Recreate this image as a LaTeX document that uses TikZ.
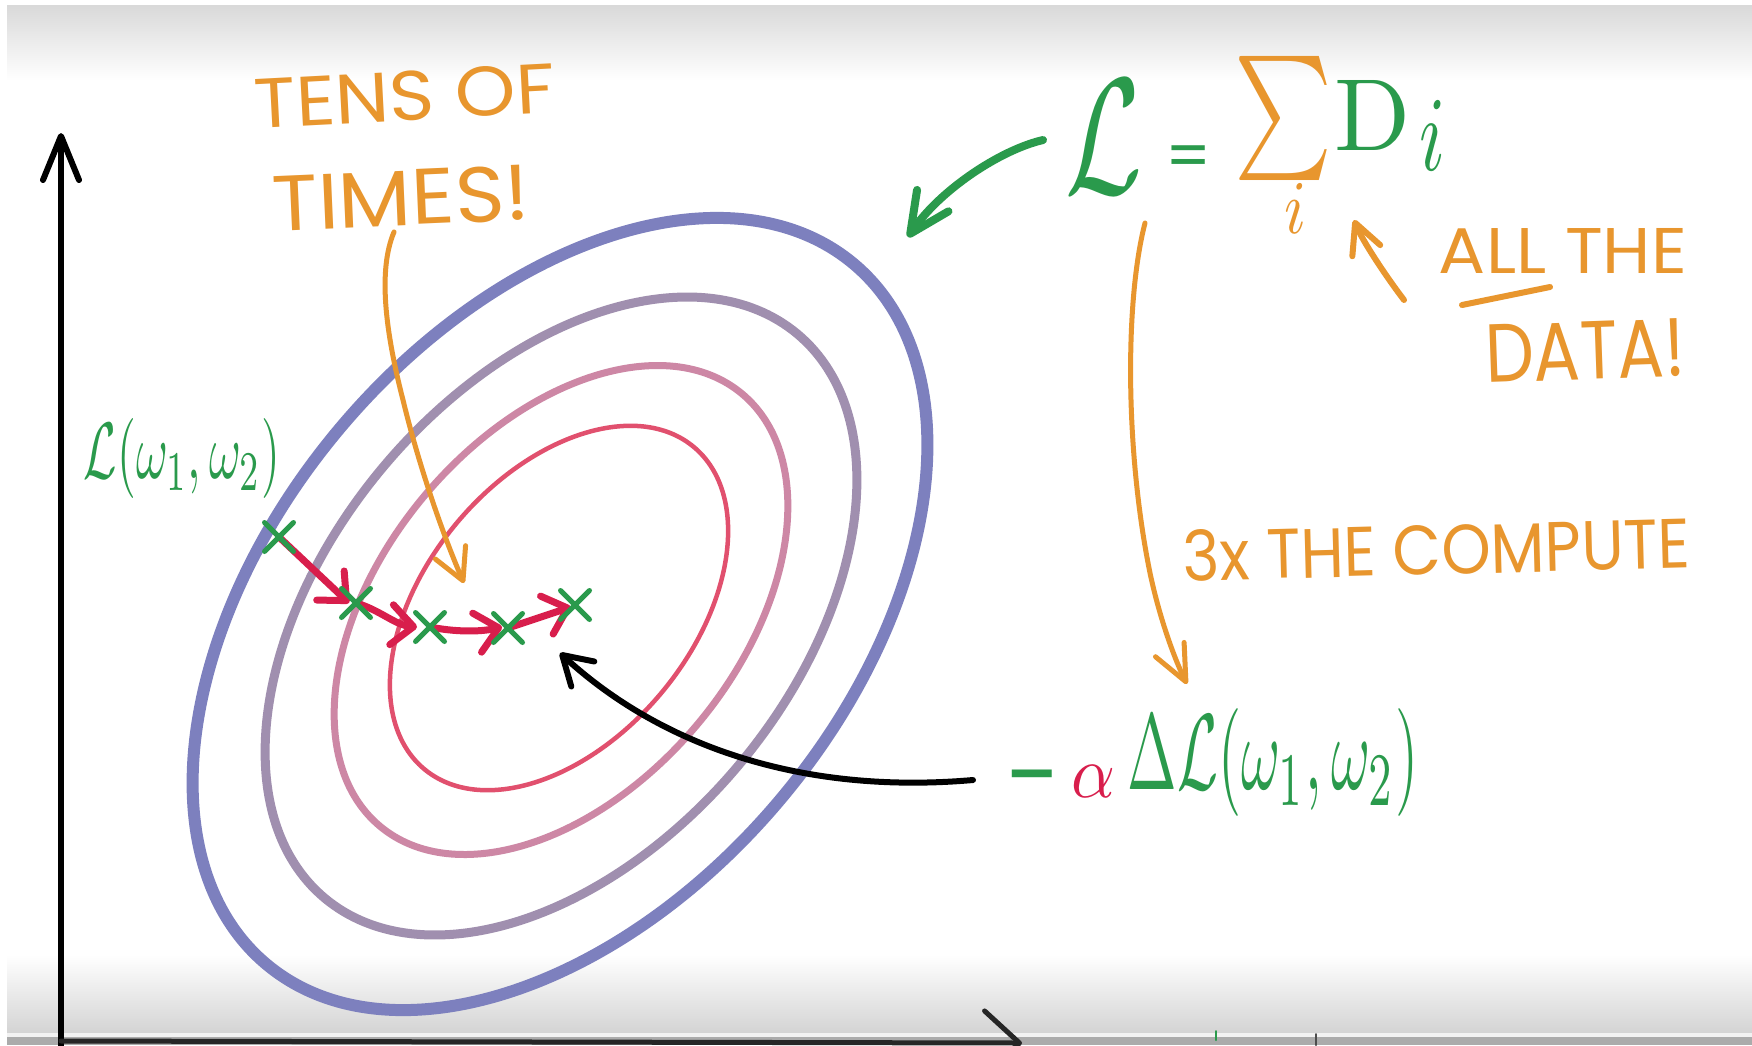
\documentclass[tikz,border=0pt]{standalone}
\usepackage{fontspec}
\usepackage{graphicx}
\usetikzlibrary{arrows.meta,shapes.misc}
\newfontfamily\hand{Poppins}
\newfontfamily\lmmath{latinmodern-math.otf}
\definecolor{cgreen}{HTML}{2A9A4C}
\definecolor{corange}{HTML}{E8962E}
\definecolor{cred}{HTML}{D81E4C}
\definecolor{cellA}{HTML}{7D80BE}
\definecolor{cellB}{HTML}{A08FAF}
\definecolor{cellC}{HTML}{CD87A5}
\definecolor{cellD}{HTML}{E1506E}
% [rotation]{name}{colour}{x1}{y1}{x2}{y2}{content}
\newcommand{\fitnode}[8][0]{%
  \node[inner sep=0pt,outer sep=0pt,rotate=#1,text=#3] (#2) at ({(#4+#6)/2},{(#5+#7)/2})
    {\resizebox*{\dimexpr #6pt-#4pt\relax}{\dimexpr #7pt-#5pt\relax}{#8}};}
\tikzset{
  xmark/.style={cross out, draw=cgreen, line width=5pt, minimum size=24pt, inner sep=0pt},
  redarrow/.style={cred, line width=7pt, -{Straight Barb[round,length=22pt,width=40pt]}},
  handtext/.style={inner sep=0pt, outer sep=0pt, text=cgreen}
}
\begin{document}
\begin{tikzpicture}[x=1pt,y=-1pt,line cap=round,line join=round]
\useasboundingbox (0,0) rectangle (1752,1045);
\clip (0,0) rectangle (1752,1045);
% background
\fill[white] (0,0) rectangle (1752,1045);
\shade[top color=black!15, bottom color=white] (7,5) rectangle (1752,80);
\shade[top color=white, bottom color=black!17] (7,955) rectangle (1752,1033);
\fill[black!5] (7,1033) rectangle (1752,1037);
\fill[black!33] (7,1037) rectangle (1752,1045);
% axes
\coordinate (origin) at (61,1041);
\coordinate (ytip) at (61,133);
\coordinate (xtip) at (1022,1043);
\draw[line width=6pt, -{Straight Barb[round,length=44pt,width=36pt]}] (61,1060) -- (ytip);
\draw[line width=5pt, black!85, -{Straight Barb[round,length=35pt,width=64pt]}] (origin) -- (xtip);
\draw[cgreen, line width=2pt] (1216,1031) -- (1216,1040);
\draw[black!70, line width=2pt] (1316,1034) -- (1316,1045);
% contour ellipses
\draw[cellA, line width=12pt, rotate around={50:(560,614)}] (560,614) ellipse [x radius=457pt, y radius=288pt];
\draw[cellB, line width=9pt, rotate around={50:(561,616)}] (561,616) ellipse [x radius=368pt, y radius=232pt];
\draw[cellC, line width=7pt, rotate around={50:(561,610)}] (561,610) ellipse [x radius=282pt, y radius=178pt];
\draw[cellD, line width=4.5pt, rotate around={50:(559,608)}] (559,608) ellipse [x radius=210pt, y radius=133pt];
% texts
\fitnode[3]{tens}{corange}{254}{71}{555}{121}{\hand TENS OF}
\fitnode[2.5]{times}{corange}{272}{170}{530}{226}{\hand TIMES!}
\fitnode{allthe}{corange}{1439}{228}{1687}{273}{\hand ALL THE}
\fitnode[2]{data}{corange}{1485}{322}{1685}{380}{\hand DATA!}
\fitnode[1.5]{compute}{corange}{1183}{523}{1690}{575}{\hand 3x THE COMPUTE}
\draw[corange, line width=6pt] (1462,305) -- (1550,287);
\fitnode{Lw}{cgreen}{84}{418}{280}{498}{$\mathcal{L}(\omega_1,\omega_2)$}
\fitnode{Ltop}{cgreen}{1066}{80}{1143}{193}{$\mathcal{L}$}
\node[handtext, font={\hand\fontsize{64pt}{64pt}\selectfont}, anchor=base] (eq) at (1189,178) {=};
\fitnode{sum}{corange}{1235}{56}{1333}{180}{\lmmath ∑}
\fitnode{sumi}{corange}{1284}{183}{1306}{233}{$i$}
\fitnode{D}{cgreen}{1335}{80}{1411}{150}{$\mathrm{D}$}
\fitnode{Di}{cgreen}{1419}{100}{1445}{170}{$i$}
\node[handtext, font={\hand\fontsize{100pt}{100pt}\selectfont}, anchor=base] (minus) at (1034,810) {-};
\fitnode{alpha}{cred}{1071}{765}{1115}{797}{$\alpha$}
\fitnode{grad}{cgreen}{1128}{708}{1418}{816}{$\Delta\mathcal{L}(\omega_1,\omega_2)$}
% arrow end points
\coordinate (gstart) at (1043,140);
\coordinate (gtip) at (908,237);
\coordinate (tstart) at (394,232);
\coordinate (ttip) at (464,583);
\coordinate (astart) at (1404,300);
\coordinate (atip) at (1354,220);
\coordinate (lstart) at (1145,223);
\coordinate (ltip) at (1187,684);
\coordinate (bstart) at (973,780);
\coordinate (btip) at (560,653);
% descent points
\coordinate (p1) at (279,537);
\coordinate (p2) at (356,603);
\coordinate (p3) at (430,627);
\coordinate (p4) at (508,628);
\coordinate (p5) at (575,605);
% arrows
\draw[cgreen, line width=8pt, -{Straight Barb[round,length=40pt,width=38pt]}] (gstart) .. controls (1000,150) and (940,190) .. (gtip);
\draw[corange, line width=5pt, -{Straight Barb[round,length=31pt,width=33pt]}] (tstart) .. controls (378,270) and (385,330) .. (403,400) .. controls (420,470) and (445,540) .. (ttip);
\draw[corange, line width=6pt, -{Straight Barb[round,length=30pt,width=30pt]}] (astart) .. controls (1385,275) and (1362,240) .. (atip);
\draw[corange, line width=5pt, -{Straight Barb[round,length=36pt,width=32pt]}] (lstart) .. controls (1125,300) and (1125,450) .. (1150,573) .. controls (1160,620) and (1175,660) .. (ltip);
\draw[redarrow] (p1) -- ([shift={(-7,0)}]p2);
\draw[redarrow] (p2) .. controls (380,610) and (395,625) .. ([shift={(-13,0)}]p3);
\draw[redarrow] (p3) .. controls (455,632) and (480,632) .. ([shift={(-6,-1)}]p4);
\draw[redarrow] (p4) -- ([shift={(-4,2)}]p5);
\foreach \i in {1,...,5} \node[xmark] (x\i) at (p\i) {};
\draw[line width=6pt, -{Straight Barb[round,length=28pt,width=34pt]}] (bstart) .. controls (800,795) and (660,745) .. (btip);
\end{tikzpicture}
\end{document}
